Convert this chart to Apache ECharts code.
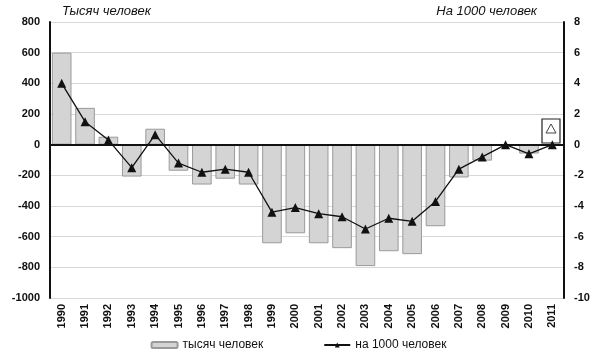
<!DOCTYPE html>
<html><head><meta charset="utf-8">
<script src="https://cdn.jsdelivr.net/npm/echarts@6/dist/echarts.min.js"></script>
<style>html,body{margin:0;padding:0;background:#fff}#c{width:597px;height:361px}</style>
</head><body><div id="c"></div>
<script>
var years = ['1990','1991','1992','1993','1994','1995','1996','1997','1998','1999','2000','2001','2002','2003','2004','2005','2006','2007','2008','2009','2010','2011'];
var thousands = [600,240,52,-208,104,-170,-260,-222,-260,-643,-578,-643,-675,-792,-695,-714,-532,-214,-104,-8,-58,-6];
var per1000 = [4.0,1.5,0.3,-1.5,0.65,-1.2,-1.8,-1.6,-1.8,-4.4,-4.1,-4.5,-4.7,-5.5,-4.8,-5.0,-3.7,-1.6,-0.8,0.0,-0.6,0.0];
var leftTicks = [-1000,-800,-600,-400,-200,0,200,400,600,800];
var rightTicks = [-10,-8,-6,-4,-2,0,2,4,6,8];
var nameBars = 'тысяч человек';
var nameLine = 'на 1000 человек';

var chart = echarts.init(document.getElementById('c'));
var font = 'Liberation Sans, Arial, sans-serif';
chart.setOption({
  animation: false,
  backgroundColor: '#fff',
  textStyle: {fontFamily: font},
  grid: {left: 50, right: 33, top: 22, bottom: 63},
  graphic: [
    {type: 'text', left: 62, top: 5, style: {text: 'Тысяч человек', font: 'italic 13px ' + font, fill: '#111'}},
    {type: 'text', right: 60, top: 5, style: {text: 'На 1000 человек', font: 'italic 13px ' + font, fill: '#111'}},
    {type: 'rect', shape: {x: 542, y: 119, width: 18, height: 24}, style: {fill: '#fff', stroke: '#222', lineWidth: 1.2}},
    {type: 'polygon', shape: {points: [[551, 124], [546, 133], [556, 133]]}, style: {fill: '#fff', stroke: '#444', lineWidth: 1}}
  ],
  legend: {
    bottom: 5, left: 'center', itemGap: 60, itemWidth: 26, itemHeight: 6,
    textStyle: {fontSize: 12, color: '#111', fontFamily: font},
    data: [{name: nameBars}, {name: nameLine}]
  },
  xAxis: {
    type: 'category', data: years,
    axisLine: {show: false},
    axisTick: {show: false},
    axisLabel: {rotate: 90, fontSize: 11, fontWeight: 'bold', color: '#111', margin: 6, interval: 0}
  },
  yAxis: [
    {type: 'value', min: -1000, max: 800, interval: 200,
     axisLine: {show: true, lineStyle: {color: '#111', width: 2}},
     axisTick: {show: false},
     axisLabel: {fontSize: 11, fontWeight: 'bold', color: '#111', margin: 10, formatter: function (v) { return String(v); }},
     splitLine: {show: true, lineStyle: {color: '#d8d8d8', width: 1}}},
    {type: 'value', min: -10, max: 8, interval: 2,
     axisLine: {show: true, lineStyle: {color: '#111', width: 2}},
     axisTick: {show: false},
     axisLabel: {fontSize: 11, fontWeight: 'bold', color: '#111', margin: 10, formatter: function (v) { return String(v); }},
     splitLine: {show: false}}
  ],
  series: [
    {name: nameBars, type: 'bar', data: thousands, barCategoryGap: '16%',
     itemStyle: {color: '#d4d4d4', borderColor: '#9a9a9a', borderWidth: 1},
     markLine: {silent: true, symbol: 'none', label: {show: false},
       lineStyle: {color: '#111', width: 2, type: 'solid'}, data: [{yAxis: 0}]}},
    {name: nameLine, type: 'line', yAxisIndex: 1, data: per1000,
     symbol: 'triangle', symbolSize: 9,
     lineStyle: {color: '#111', width: 1.3},
     itemStyle: {color: '#111'}}
  ]
});
</script></body></html>
